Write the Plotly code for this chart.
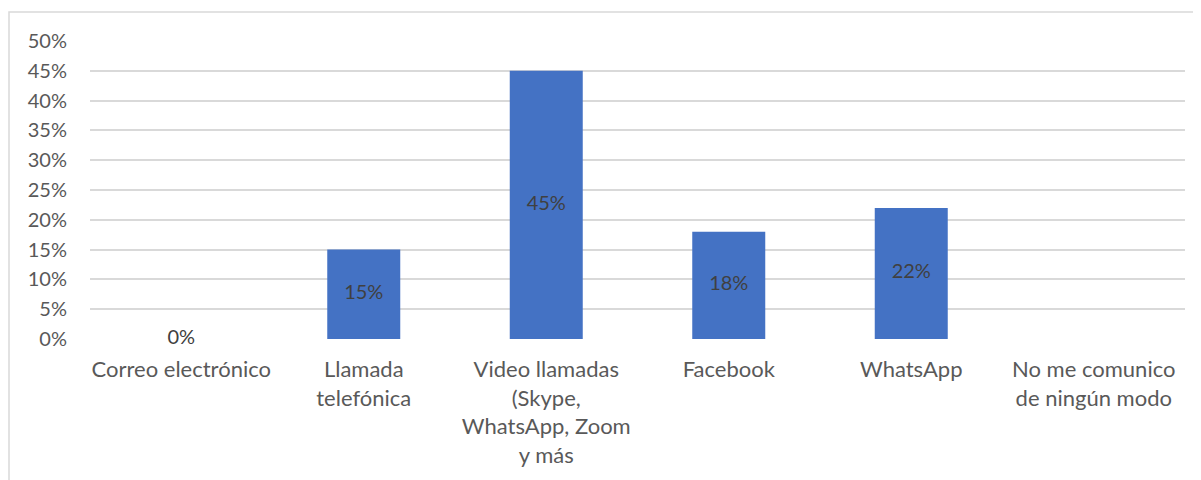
import plotly.graph_objects as go

categories = ["Correo electrónico", "Llamada telefónica", "Video llamadas (Skype, WhatsApp, Zoom y más",
              "Facebook", "WhatsApp", "No me comunico de ningún modo"]
tick_labels = ["Correo electrónico", "Llamada<br>telefónica", "Video llamadas<br>(Skype,<br>WhatsApp, Zoom<br>y más",
               "Facebook", "WhatsApp", "No me comunico<br>de ningún modo"]
values = [0.0, 0.15, 0.45, 0.18, 0.22, None]
y_ticks = [0, 0.05, 0.10, 0.15, 0.20, 0.25, 0.30, 0.35, 0.40, 0.45, 0.50]

FONT = "Lato"
OFF = 8  # default page body margin
W, H = 1201 - OFF, 480 - OFF
L, R, T, B = 90 - OFF, 16, 41 - OFF, 141
pw, ph = W - L - R, H - T - B

fig = go.Figure()
fig.add_trace(go.Bar(x=categories, y=[v if v is not None else 0 for v in values],
                     marker=dict(color="#4472C4", line=dict(width=0)),
                     hoverinfo="skip"))
lx = [c for c, v in zip(categories, values) if v is not None]
ly = [v / 2 for v in values if v is not None]
lt = [f"{round(v*100)}%" for v in values if v is not None]
fig.add_trace(go.Scatter(x=lx, y=ly, text=lt, mode="text", textposition="middle center", cliponaxis=False,
                         textfont=dict(family=FONT, size=20, color="#404040"), hoverinfo="skip"))

fig.update_layout(
    width=W, height=H, showlegend=False, bargap=0.6,
    margin=dict(l=L, r=R, t=T, b=B, autoexpand=False),
    paper_bgcolor="white", plot_bgcolor="white",
    xaxis=dict(tickvals=categories, ticktext=tick_labels, showgrid=False, zeroline=False, showline=False,
               ticks="", ticklabelstandoff=15, automargin=False,
               tickfont=dict(family=FONT, size=22, color="#595959"), tickangle=0),
    yaxis=dict(range=[0, 0.5], tickvals=y_ticks, ticktext=[f"{round(t*100)}%" for t in y_ticks],
               showgrid=True, gridcolor="#D9D9D9", gridwidth=1.5, zeroline=False, showline=False,
               ticks="", ticklabelstandoff=22, automargin=False,
               tickfont=dict(family=FONT, size=20, color="#595959")),
)
fig.add_shape(type="rect", xref="paper", yref="paper",
              x0=(9 - OFF - L) / pw, x1=(W + 5 - L) / pw,
              y0=-(B + 5) / ph, y1=1 + (T - (12 - OFF)) / ph,
              line=dict(color="#D9D9D9", width=1.5), fillcolor="rgba(0,0,0,0)", layer="below")
fig.write_html("out.html")
